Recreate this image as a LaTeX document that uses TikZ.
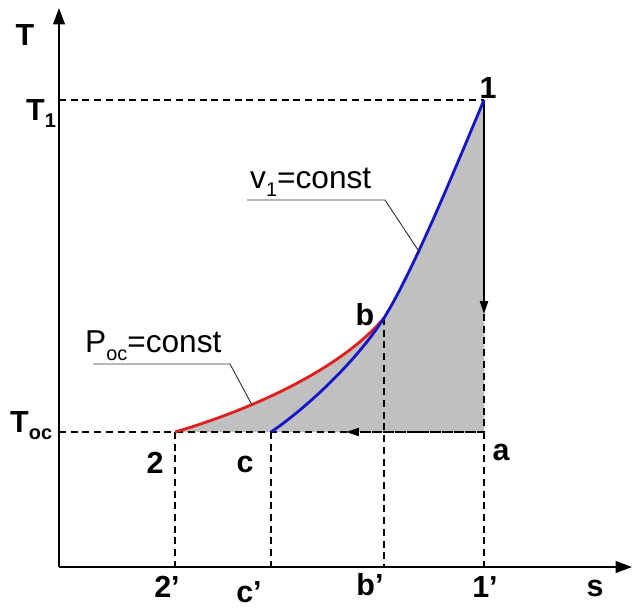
\documentclass[tikz,border=0pt]{standalone}
\usepackage{fontspec}
\setmainfont{Liberation Sans}
\usepackage{tikz}
\usetikzlibrary{arrows.meta, positioning, calc}
\definecolor{areagray}{RGB}{192,192,192}
\definecolor{curveblue}{RGB}{20,20,200}
\definecolor{curvered}{RGB}{225,30,30}
\newcommand{\lowidx}[1]{\raisebox{-0.26em}{\fontsize{17}{19}\selectfont #1}}

\begin{document}
\begin{tikzpicture}[
  x=0.03cm, y=-0.03cm,
  axis/.style={line width=1.6pt, -{Triangle[length=14pt, width=10pt]}},
  guide/.style={line width=1.1pt, dash pattern=on 6pt off 4pt},
  curve/.style={line width=2.4pt},
  leader/.style={line width=0.8pt, black!80},
  pt/.style={font=\fontsize{26}{30}\selectfont\bfseries, inner sep=0pt},
  lbl/.style={font=\fontsize{27}{32}\selectfont, inner sep=0pt, anchor=base west},
]
  \useasboundingbox (0,0) rectangle (638,611);

  % state points
  \coordinate (p1) at (484,100);
  \coordinate (pa) at (484,432);
  \coordinate (p2) at (175,432);
  \coordinate (pc) at (271,432);
  \coordinate (pb) at (384,318);
  \coordinate (o) at (59,567);

  % shaded area
  \fill[areagray] (p2) .. controls (250,410) and (340,370) .. (pb)
    .. controls (414,270) and (459,159) .. (p1) -- (pa) -- cycle;

  % axes
  \draw[axis] (o) -- (59,8);
  \draw[axis] (o) -- (632,567);

  % guide lines
  \draw[guide] (59,100) -- (p1);
  \draw[guide] (59,432) -- (pa);
  \draw[guide] (p2) -- (175,567);
  \draw[guide] (pc) -- (271,567);
  \draw[guide] (pb) -- (384,567);
  \draw[guide] (pa) -- (484,567);
  \draw[guide, -{Triangle[length=11pt, width=7pt]}] (pa) -- (346,432);
  \draw[line width=1.4pt, -{Triangle[length=11pt, width=7pt]}] (p1) -- (484,314);
  \draw[guide] (484,314) -- (pa);

  % curves
  \draw[curve, curvered] (p2) .. controls (250,410) and (340,370) .. (pb);
  \draw[curve, curveblue] (pc) .. controls (301,412) and (354,365) .. (pb)
    .. controls (414,270) and (459,159) .. (p1);

  % curve labels
  \node[lbl] (vlab) at (250,188) {v\lowidx{1}=const};
  \draw[leader] (247,200) -- (385,200) -- (420,253);
  \node[lbl] (plab) at (85,352) {P\lowidx{oc}=const};
  \draw[leader] (93,364) -- (230,364) -- (252,405);

  % axis labels
  \node[pt] (tax) at (25,35) {T};
  \node[pt, anchor=base west] (t1) at (26,120) {T\lowidx{1}};
  \node[pt, anchor=base west] (toc) at (10,432) {T\lowidx{oc}};
  \node[pt] (sax) at (595,588) {s};

  % point labels
  \node[pt] (l1) at (488,88) {1};
  \node[pt] (lb) at (365,315) {b};
  \node[pt] (la) at (501,452) {a};
  \node[pt] (l2) at (155,463) {2};
  \node[pt] (lc) at (245,464) {c};
  \node[pt] (l2p) at (167,587) {2’};
  \node[pt] (lcp) at (249,592) {c’};
  \node[pt] (lbp) at (370,585) {b’};
  \node[pt] (l1p) at (485,587) {1’};
\end{tikzpicture}
\end{document}
